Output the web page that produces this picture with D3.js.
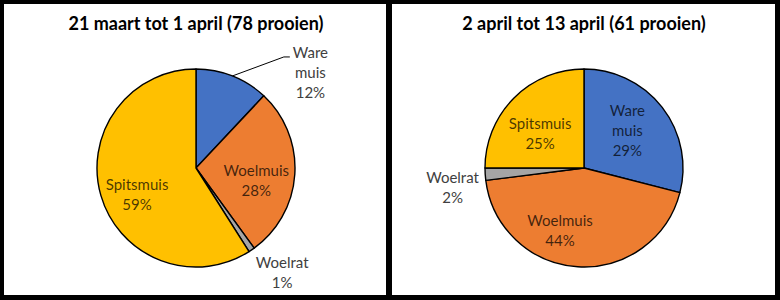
<!DOCTYPE html>
<html lang="en">
    <head>
        <meta charset="utf-8">
        <title>Prooien per periode</title>
        <script src="https://d3js.org/d3.v7.min.js"></script>
        <style>
            body {
                margin: 0;
                background: black;
            }
            .title {
                font-family: Lato, "Open Sans", sans-serif;
                font-weight: bold;
                font-size: 18px;
                fill: black;
            }
            .lbl {
                font-family: Lato, "Open Sans", sans-serif;
                font-size: 15px;
            }
        </style>
    </head>
    <body>
        <div id="chart"></div>
        <script type="text/javascript">
            // data
            var species = ["Ware muis", "Woelmuis", "Woelrat", "Spitsmuis"];
            var titles = ["21 maart tot 1 april (78 prooien)", "2 april tot 13 april (61 prooien)"];
            var pctMarch = [12, 28, 1, 59];
            var pctApril = [29, 44, 2, 25];

            // style / layout
            var colors = ["#4472C4", "#ED7D31", "#A5A5A5", "#FFC000"];
            var w = 780, h = 300;
            var panels = [
                {x: 4, y: 4, w: 382, h: 291, cx: 196, cy: 168, values: pctMarch,
                 // label: radius fraction along slice middle + nudge, inside = dark text on slice
                 labels: [{rf: 1.0, dx: 78, dy: -3, out: true, leader: true},
                          {rf: 0.62, dx: -1, dy: 9},
                          {rf: 1.37, dx: 10, dy: -7, out: true},
                          {rf: 0.62, dx: 0, dy: 10}]},
                {x: 392, y: 4, w: 383, h: 291, cx: 584, cy: 168, values: pctApril,
                 labels: [{rf: 0.58, dx: -2, dy: -2},
                          {rf: 0.64, dx: -20, dy: 0},
                          {rf: 1.32, dx: -1, dy: 12, out: true},
                          {rf: 0.57, dx: -4, dy: 6}]}
            ];
            var r = 99;
            var lineH = 20;

            var svg = d3.select("#chart").append("svg").attr("width", w).attr("height", h);
            var pie = d3.pie().sort(null).value(function(d) { return d; });
            var arc = d3.arc().innerRadius(0).outerRadius(r);

            panels.forEach(function(p, pi) {
                svg.append("rect").attr("x", p.x).attr("y", p.y).attr("width", p.w).attr("height", p.h).attr("fill", "white");
                svg.append("text").attr("class", "title").attr("x", p.cx).attr("y", 30)
                    .attr("text-anchor", "middle").text(titles[pi]);

                var g = svg.append("g").attr("transform", "translate(" + p.cx + "," + p.cy + ")");
                var arcs = pie(p.values);
                g.selectAll("path").data(arcs).enter().append("path")
                    .attr("d", arc)
                    .attr("fill", function(d, i) { return colors[i]; })
                    .attr("stroke", "black").attr("stroke-width", 1.4)
                    .attr("stroke-linejoin", "round");

                arcs.forEach(function(d, i) {
                    var L = p.labels[i];
                    var a = (d.startAngle + d.endAngle) / 2;
                    var x = Math.sin(a) * r * L.rf + L.dx;
                    var y = -Math.cos(a) * r * L.rf + L.dy;
                    var lines = species[i].split(" ").concat([p.values[i] + "%"]);
                    var top = y - (lines.length - 1) * lineH / 2;
                    var t = g.append("text").attr("class", "lbl").attr("text-anchor", "middle")
                        .attr("fill", L.out ? "#404040" : "black")
                        .attr("fill-opacity", L.out ? 1 : 0.72);
                    lines.forEach(function(s, k) {
                        t.append("tspan").attr("x", x).attr("y", top + k * lineH).attr("dy", "0.35em").text(s);
                    });
                    if (L.leader) {
                        var bw = t.node().getBBox();
                        var ex = bw.x - 3, ey = top + 4;
                        g.append("polyline")
                            .attr("points", [[Math.sin(a) * r, -Math.cos(a) * r], [ex - 6, ey], [ex, ey]].join(" "))
                            .attr("fill", "none").attr("stroke", "black").attr("stroke-width", 1);
                    }
                });
            });
        </script>
    </body>
</html>
